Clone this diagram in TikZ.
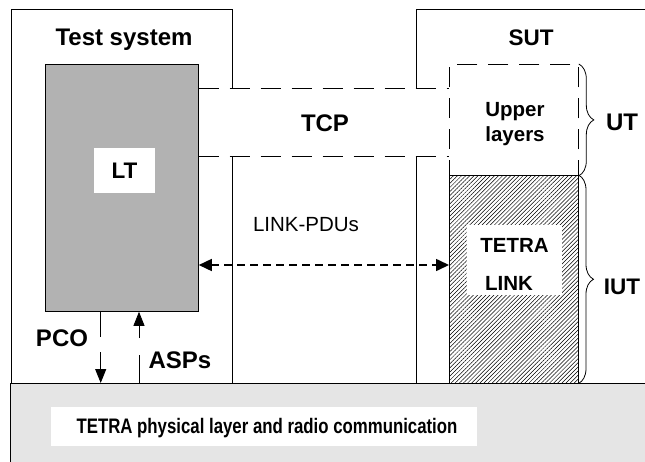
\documentclass[tikz,border=0pt]{standalone}
\usepackage{fontspec}
\setmainfont{Liberation Sans}
\usetikzlibrary{arrows.meta,patterns.meta,decorations.pathreplacing}
\begin{document}
\begin{tikzpicture}[x=1pt,y=-1pt,line width=0.8pt,
  box/.style={draw,inner sep=0pt,anchor=north west},
  lbl/.style={font=\fontsize{24}{28}\selectfont\bfseries,inner sep=0pt},
  mlbl/.style={font=\fontsize{22.5}{26}\selectfont\bfseries,inner sep=0pt},
  slbl/.style={font=\fontsize{20.5}{25}\selectfont\bfseries,inner sep=0pt,align=center},
  dsh/.style={dash pattern=on 20pt off 11pt},
  whitebox/.style={fill=white,inner sep=0pt},
  tip/.style={-{Triangle[length=14pt,width=11pt]}},
  pdu/.style={line width=1.6pt,dash pattern=on 8pt off 5pt,
    {Triangle[length=13pt,width=12pt]}-{Triangle[length=13pt,width=12pt]}},
  brc/.style={decorate,decoration={brace,amplitude=15pt}}]
\useasboundingbox (0,0) rectangle (645,461);
\clip (0,0) rectangle (645,461);
% physical layer bar
\node[box,fill=black!10,minimum width=660pt,minimum height=90pt] (phy) at (10,383) {};
% test system and SUT frames
\node[box,minimum width=221pt,minimum height=374pt] (ts) at (11,9) {};
\node[box,minimum width=260pt,minimum height=374pt] (sut) at (416,9) {};
% LT
\node[box,fill=black!30,minimum width=153pt,minimum height=247pt] (lt) at (45,64) {};
% TCP
\node[anchor=north west,fill=white,inner sep=0pt,minimum width=250.5pt,minimum height=68pt] (tcp) at (198.5,88) {};
\draw[dsh] (tcp.north west) -- (tcp.north east);
\draw[dsh] (tcp.south west) -- (tcp.south east);
% Upper layers
\node[box,dsh,fill=white,minimum width=129pt,minimum height=111pt] (upper) at (449,64) {};
% TETRA LINK
\node[box,pattern={Lines[angle=45,distance=2.9pt,line width=0.5pt]},pattern color=black,minimum width=129pt,minimum height=208pt] (link) at (449,175) {};
% labels
\node[lbl] (tslbl) at (124,40) {Test system};
\node[mlbl] (sutlbl) at (531,38) {SUT};
\node[whitebox,mlbl,minimum width=61pt,minimum height=45pt] (ltlbl) at (124.5,170.5) {LT};
\node[lbl] (tcplbl) at (325,123) {TCP};
\node[slbl] (uplbl) at (515,124) {Upper\\layers};
\node[whitebox,minimum width=95pt,minimum height=70pt] (linklbl) at (514.5,260) {};
\node[slbl] (tetralbl) at (514.5,245) {TETRA};
\node[slbl] (linktxt) at (509,283) {LINK};
\node[whitebox,minimum width=426pt,minimum height=39pt] (phylbl) at (264,426.5) {};
\node[inner sep=0pt,font=\fontsize{21}{24}\selectfont\bfseries] (phytxt) at (267,428) {\scalebox{0.8}[1]{TETRA physical layer and radio communication}};
\node[inner sep=0pt,font=\fontsize{20.5}{24}\selectfont] (pdulbl) at (306,225) {LINK-PDUs};
% LINK-PDUs arrow
\coordinate (py) at (0,265);
\draw[pdu] (lt.east |- py) -- (link.west |- py);
% PCO and ASPs
\coordinate (pco1) at (100.7,337);
\coordinate (pco2) at (100.7,352);
\draw (lt.south -| pco1) -- (pco1);
\draw[tip] (pco2) -- (phy.north -| pco2);
\node[lbl] (pcolbl) at (62,338) {PCO};
\coordinate (asp1) at (139,338);
\coordinate (asp2) at (139,355);
\draw[tip] (asp1) -- (lt.south -| asp1);
\draw (phy.north -| asp2) -- (asp2);
\node[lbl] (asplbl) at (180,360) {ASPs};
% braces
\draw[brc] (upper.north east) -- (upper.south east);
\draw[brc] (link.north east) -- (link.south east);
\node[lbl] (utlbl) at (622,122) {UT};
\node[mlbl] (iutlbl) at (622,287) {IUT};
\end{tikzpicture}
\end{document}
